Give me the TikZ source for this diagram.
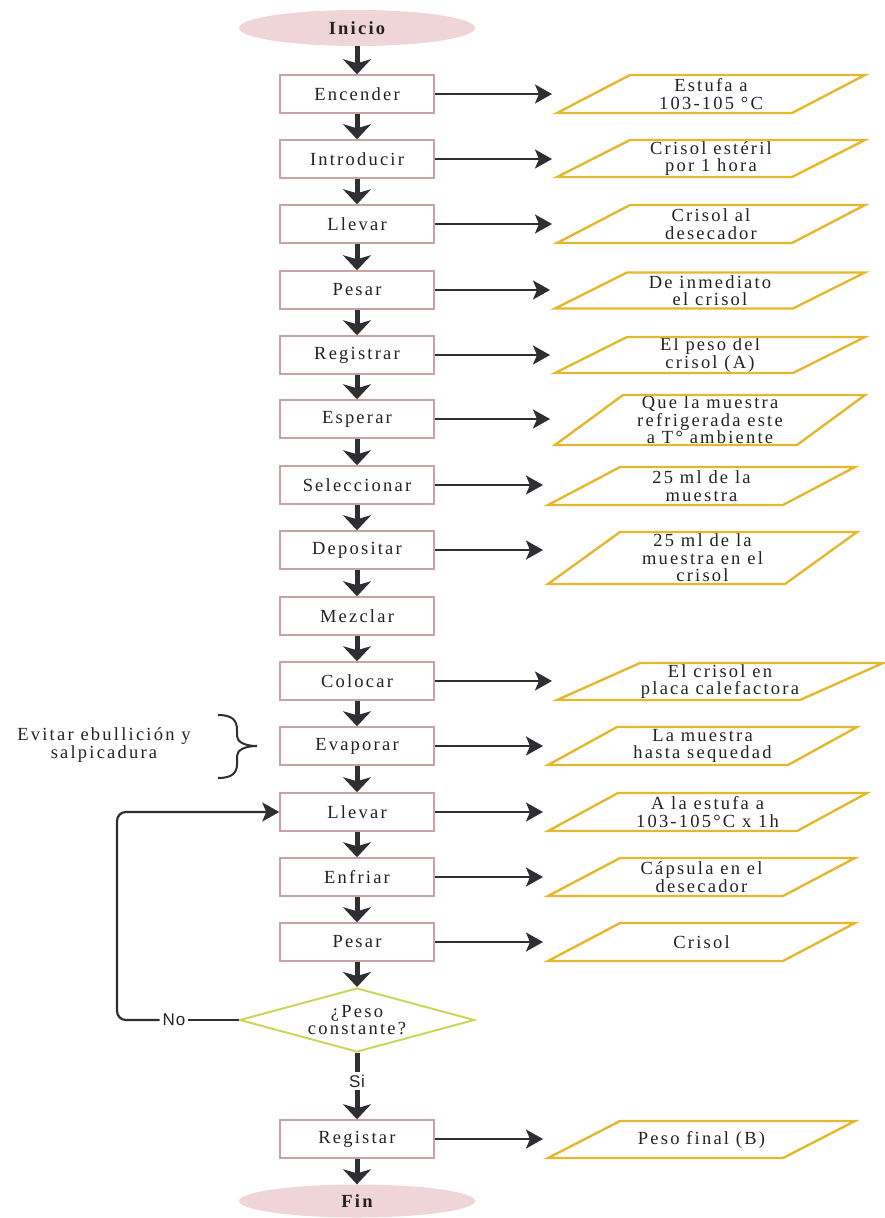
\documentclass[tikz,border=0pt]{standalone}
\usepackage{fontspec}
\usetikzlibrary{arrows.meta,shapes.geometric,calc}

\newfontfamily\flowfont{Liberation Serif}[LetterSpace=12]
\newfontfamily\tagfont{Liberation Sans}[LetterSpace=5]

\definecolor{termfill}{HTML}{EFD5D8}
\definecolor{boxline}{HTML}{C9A2A2}
\definecolor{ioline}{HTML}{E5B72E}
\definecolor{decline}{HTML}{CCD55C}
\definecolor{arrowdark}{HTML}{2E2E33}
\definecolor{inktext}{HTML}{222222}

% input/output parallelogram: name, cx, cy, width, height, slant, text
\newcommand\iobox[7]{%
  \node[iotext] (#1) at (#2,#3) {#7};
  \draw[iostroke] ($(#1)+({-#4/2},{#5/2})$) -- ++(#6,-#5)
    -- ($(#1)+({#4/2},{-#5/2})$) -- ++(-#6,#5) -- cycle;
  \coordinate (#1-in) at ($(#1)+({-#4/2-5},0)$);
}

\begin{document}
\begin{tikzpicture}[x=1pt,y=-1pt,
  every node/.style={font=\flowfont\fontsize{18.5}{17.5}\selectfont, text=inktext},
  terminal/.style={ellipse, fill=termfill, minimum width=236pt, minimum height=36pt, inner sep=0pt},
  stepbox/.style={rectangle, draw=boxline, line width=1.5pt, fill=white, minimum width=154pt, minimum height=38pt, inner sep=0pt},
  iotext/.style={align=center, inner sep=0pt},
  iostroke/.style={draw=ioline, line width=2.4pt, line join=miter},
  decision/.style={diamond, draw=decline, line width=2pt, aspect=3.67, minimum width=235pt, minimum height=64pt, inner sep=0pt, align=center},
  vflow/.style={draw=arrowdark, line width=5pt, -{Stealth[length=15pt,width=28pt,inset=4pt]}},
  vbar/.style={draw=arrowdark, line width=5pt},
  hflow/.style={draw=arrowdark, line width=2.2pt, -{Stealth[length=17pt,width=19pt,inset=4pt]}},
  hline/.style={draw=arrowdark, line width=2.2pt},
  tag/.style={font=\tagfont\fontsize{17}{18}\selectfont, inner sep=3pt}
]
\useasboundingbox (0,0) rectangle (884,1218);

% main column
\node[terminal] (ini) at (357,28) {\bfseries Inicio};
\node[stepbox] (b1)  at (357,94)  {Encender};
\node[stepbox] (b2)  at (357,159) {Introducir};
\node[stepbox] (b3)  at (357,224) {Llevar};
\node[stepbox] (b4)  at (357,290) {Pesar};
\node[stepbox] (b5)  at (357,355) {Registrar};
\node[stepbox] (b6)  at (357,419) {Esperar};
\node[stepbox] (b7)  at (357,485) {Seleccionar};
\node[stepbox] (b8)  at (357,550) {Depositar};
\node[stepbox] (b9)  at (357,616) {Mezclar};
\node[stepbox] (b10) at (357,681) {Colocar};
\node[stepbox] (b11) at (357,746) {Evaporar};
\node[stepbox] (b12) at (357,812) {Llevar};
\node[stepbox] (b13) at (357,877) {Enfriar};
\node[stepbox] (b14) at (357,942) {Pesar};
\node[decision] (dec) at (357,1020) {¿Peso\\constante?};
\node[tag] (si) at (357,1081) {Si};
\node[stepbox] (b15) at (357,1139) {Registar};
\node[terminal, minimum height=33pt] (fin) at (357,1201) {\bfseries Fin};

% vertical flow
\draw[vflow] (ini) -- (b1);
\foreach \a/\b in {b1/b2,b2/b3,b3/b4,b4/b5,b5/b6,b6/b7,b7/b8,b8/b9,b9/b10,b10/b11,b11/b12,b12/b13,b13/b14}
  \draw[vflow] (\a) -- (\b);
\draw[vflow] (b14) -- (dec);
\draw[vbar] (dec.south) -- (si.north);
\draw[vflow] (si.south) -- (b15.north);
\draw[vflow] (b15) -- (fin);

% data boxes on the right
\iobox{p1}{711}{94}{308}{38}{73}{Estufa a\\103-105 °C}
\iobox{p2}{711}{158.5}{308}{37}{73}{Crisol estéril\\por 1 hora}
\iobox{p3}{711}{224}{308}{38}{73}{Crisol al\\desecador}
\iobox{p4}{710}{290.5}{310}{36}{72}{De inmediato\\el crisol}
\iobox{p5}{710}{355}{310}{36}{72}{El peso del\\crisol (A)}
\iobox{p6}{710}{420}{310}{50}{68}{Que la muestra\\refrigerada este\\a T° ambiente}
\iobox{p7}{701.5}{486}{307}{38}{72}{25 ml de la\\muestra}
\iobox{p8}{702.5}{558}{309}{52}{72}{25 ml de la\\muestra en el\\crisol}
\iobox{p10}{720}{681.5}{326}{37}{83}{El crisol en\\placa calefactora}
\iobox{p11}{702.5}{746}{309}{38}{69}{La muestra\\hasta sequedad}
\iobox{p12}{707.5}{812}{319}{38}{70}{A la estufa a\\103-105°C x 1h}
\iobox{p13}{701.5}{877}{307}{38}{72}{Cápsula en el\\desecador}
\iobox{p14}{701.5}{942}{307}{38}{72}{Crisol}
\iobox{p15}{701.5}{1139.5}{307}{37}{72}{Peso final (B)}

\foreach \a/\b in {b1/p1,b2/p2,b3/p3,b4/p4,b5/p5,b6/p6,b7/p7,b8/p8,b10/p10,b11/p11,b12/p12,b13/p13,b14/p14,b15/p15}
  \draw[hflow] (\a.east) -- (\a.east -| \b-in);

% loop back when the weight is not constant
\node[tag] (no) at (174,1020) {No};
\coordinate (loop) at (117,1020);
\draw[hline] (dec.west) -- (no.east);
\draw[hflow, rounded corners=9pt] (no.west) -- (loop) |- (b12.west);

% side note with brace
\node[align=center] (note) at (104,745) {Evitar ebullición y\\salpicadura};
\draw[draw=arrowdark, line width=2pt]
  (218,715) .. controls (232,715) and (237,720) .. (237,730) -- (237,736)
  .. controls (237,742) and (245,746) .. (257,746)
  .. controls (245,746) and (237,750) .. (237,756) -- (237,764)
  .. controls (237,773) and (232,778) .. (218,778);
\end{tikzpicture}
\end{document}
